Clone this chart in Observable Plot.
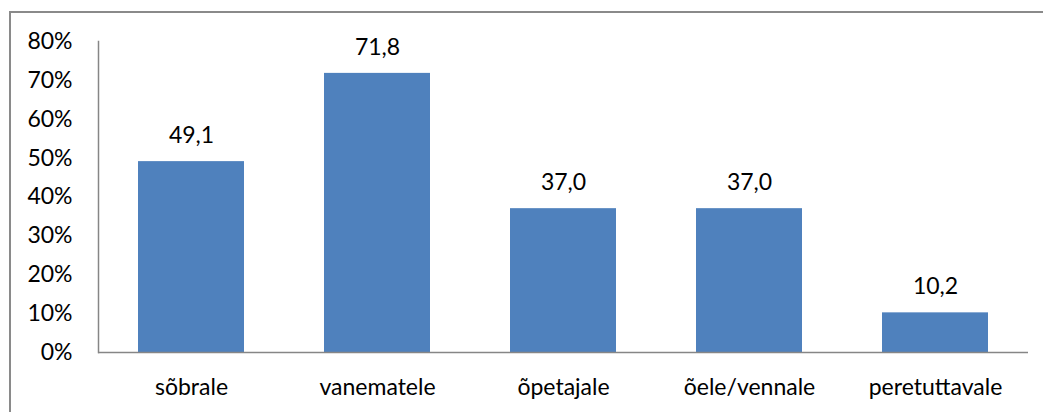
<!DOCTYPE html>
<html>
<head>
<meta charset="utf-8">
<script src="https://cdn.jsdelivr.net/npm/d3@7"></script>
<script src="https://cdn.jsdelivr.net/npm/@observablehq/plot@0.6"></script>
<style>
  html, body { margin: 0; padding: 0; background: #fff; }
  #wrap { position: relative; width: 1043px; height: 412px; overflow: hidden; }
  #border { position: absolute; left: 9px; top: 11px; width: 1100px; height: 500px;
            border-left: 2px solid #8a8a8a; border-top: 2px solid #8a8a8a; }
  #chart { position: absolute; left: 0; top: 0; }
</style>
</head>
<body>
<div id="wrap"><div id="border"></div><div id="chart"></div></div>
<script>
const categories = ["sõbrale", "vanematele", "õpetajale", "õele/vennale", "peretuttavale"];
const values = [49.1, 71.8, 37.0, 37.0, 10.2];
const yTicks = [0, 10, 20, 30, 40, 50, 60, 70, 80];

const data = categories.map((c, i) => ({category: c, value: values[i]}));
const fmt = v => v.toFixed(1).replace(".", ",");

const chart = Plot.plot({
  width: 1043,
  height: 412,
  marginLeft: 98,
  marginRight: 15,
  marginTop: 41,
  marginBottom: 60,
  style: {fontFamily: "Lato, sans-serif", fontSize: "23px", color: "#000", background: "transparent"},
  x: {domain: categories, paddingInner: 0.43, paddingOuter: 0.215, label: null},
  y: {domain: [0, 80], label: null},
  marks: [
    Plot.barY(data, {x: "category", y: "value", fill: "#4F81BD"}),
    Plot.text(data, {x: "category", y: "value", text: d => fmt(d.value), dy: -26, fill: "#000", fontSize: 23}),
    Plot.axisY({ticks: yTicks, tickFormat: d => d + "%", tickSize: 0, tickPadding: 26, fontSize: 23, label: null}),
    Plot.axisX({tickSize: 0, tickPadding: 26, fontSize: 23, label: null}),
    Plot.ruleY([0], {stroke: "#868686", strokeWidth: 1.5}),
    Plot.frame({anchor: "left", stroke: "#868686", strokeWidth: 1.5})
  ]
});
document.getElementById("chart").appendChild(chart);
</script>
</body>
</html>
